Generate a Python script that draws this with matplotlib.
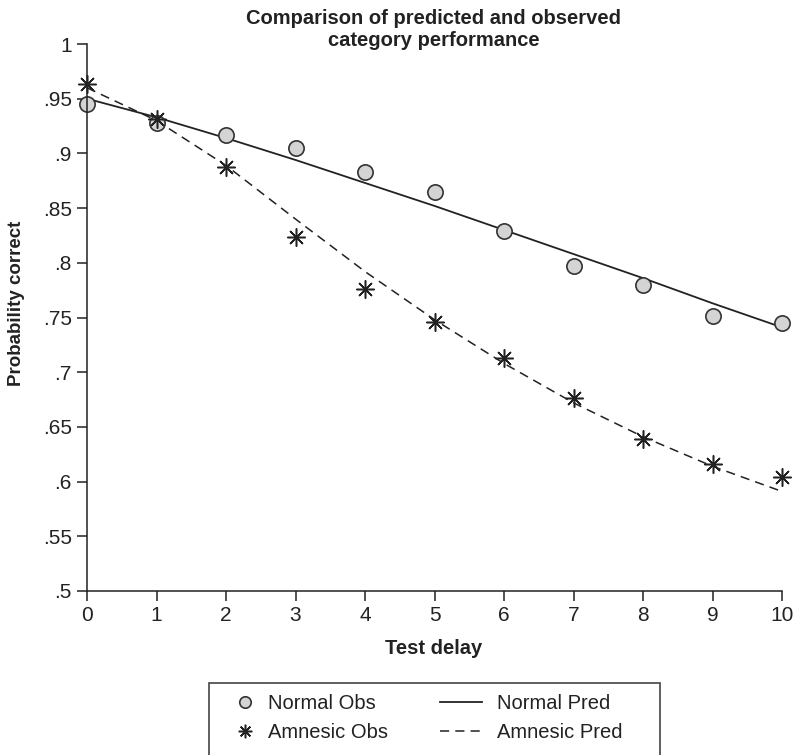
import matplotlib
matplotlib.use('Agg')
import matplotlib.pyplot as plt
from matplotlib.patches import Rectangle
from matplotlib.ticker import FuncFormatter

plt.rcParams['font.family'] = ['Liberation Sans', 'DejaVu Sans']

# data
delay = [0, 1, 2, 3, 4, 5, 6, 7, 8, 9, 10]
normal_obs = [0.945, 0.928, 0.917, 0.905, 0.883, 0.865, 0.829, 0.797, 0.780, 0.751, 0.745]
amnesic_obs = [0.963, 0.931, 0.888, 0.824, 0.776, 0.746, 0.713, 0.676, 0.639, 0.616, 0.604]
normal_pred = [0.950, 0.933, 0.914, 0.894, 0.873, 0.852, 0.830, 0.808, 0.786, 0.763, 0.741]
amnesic_pred = [0.960, 0.930, 0.889, 0.840, 0.792, 0.748, 0.708, 0.672, 0.641, 0.614, 0.591]
y_ticks = [0.5, 0.55, 0.6, 0.65, 0.7, 0.75, 0.8, 0.85, 0.9, 0.95, 1.0]

W, H = 795, 755
fig = plt.figure(figsize=(7.95, 7.55), dpi=100)
ax = fig.add_axes([87 / W, 1 - 591 / H, (782 - 87) / W, (591 - 44) / H])

ink = '#222222'
ln_n, = ax.plot(delay, normal_pred, color=ink, lw=1.3, linestyle='-', label='Normal Pred')
ln_a, = ax.plot(delay, amnesic_pred, color=ink, lw=1.1, linestyle=(0, (6, 4)), label='Amnesic Pred')
mk_n, = ax.plot(delay, normal_obs, linestyle='none', marker='o', markersize=11,
                markerfacecolor='#d4d4d4', markeredgecolor='#333333', markeredgewidth=1.2,
                label='Normal Obs', clip_on=False)
mk_a, = ax.plot(delay, amnesic_obs, linestyle='none', marker=(8, 2, 0), markersize=13,
                markeredgecolor=ink, markeredgewidth=1.1, color=ink,
                label='Amnesic Obs', clip_on=False)

ax.set_xlim(0, 10)
ax.set_ylim(0.5, 1.0)
ax.set_xticks(delay)
ax.set_yticks(y_ticks)

def fmt(v, pos):
    s = ('%.2f' % v).rstrip('0').rstrip('.')
    if s.startswith('0'):
        s = s[1:]
    return s

ax.yaxis.set_major_formatter(FuncFormatter(fmt))
ax.tick_params(direction='out', length=7, width=1.1, labelsize=15, color=ink,
               labelcolor=ink, pad=4)
for side in ['top', 'right']:
    ax.spines[side].set_visible(False)
for side in ['left', 'bottom']:
    ax.spines[side].set_linewidth(1.1)
    ax.spines[side].set_color(ink)

# title and axis labels
fig.text(434 / W, 1 - 30 / H, 'Comparison of predicted and observed\ncategory performance',
         ha='center', va='center', fontsize=14.5, fontweight='bold', color=ink,
         linespacing=1.2, multialignment='center')
fig.text(434 / W, 1 - 648 / H, 'Test delay', ha='center', va='center',
         fontsize=14.5, fontweight='bold', color=ink)
fig.text(17 / W, 1 - 303 / H, 'Probability correct', ha='center', va='center',
         rotation=90, fontsize=13.5, fontweight='bold', color=ink)

# legend: box runs past the bottom edge, two columns placed separately
fig.add_artist(Rectangle((209 / W, -0.02), (660 - 209) / W, 0.02 + 1 - 683 / H,
                         transform=fig.transFigure, fill=False,
                         edgecolor='#444444', linewidth=1.2))
leg1 = fig.legend(handles=[mk_n, mk_a], loc='center left',
                  bbox_to_anchor=(235 / W, 1 - 718 / H), borderaxespad=0, borderpad=0,
                  frameon=False, fontsize=14.5, handlelength=1.0, handletextpad=0.65,
                  labelspacing=0.5, markerscale=0.75)
leg2 = fig.legend(handles=[ln_n, ln_a], loc='center left',
                  bbox_to_anchor=(440 / W, 1 - 718 / H), borderaxespad=0, borderpad=0,
                  frameon=False, fontsize=14.5, handlelength=2.1, handletextpad=0.75,
                  labelspacing=0.5)
for leg in (leg1, leg2):
    for t in leg.get_texts():
        t.set_color(ink)

fig.savefig('out.png', dpi=100)
